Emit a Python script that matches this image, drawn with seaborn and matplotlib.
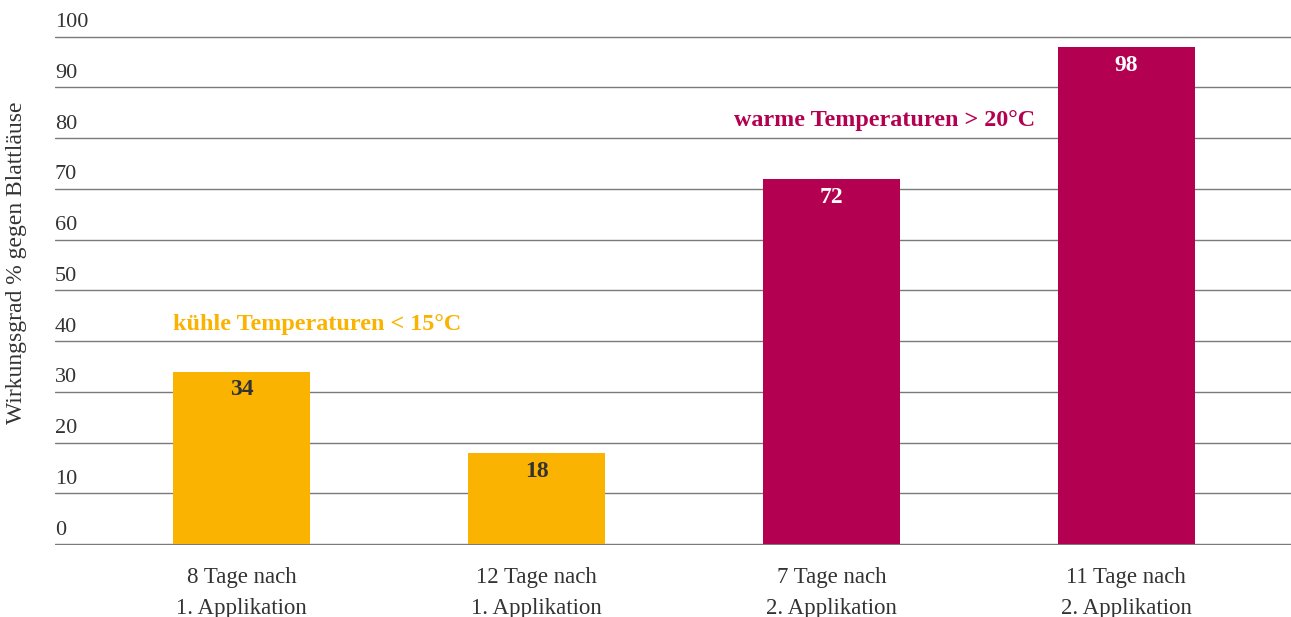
import numpy as np
import pandas as pd
from matplotlib import pyplot as plt
import seaborn as sns

sns.set_style('white')
plt.rcParams['font.family'] = ['Liberation Serif', 'DejaVu Serif']

# data
categories = ['8 Tage nach\n1. Applikation', '12 Tage nach\n1. Applikation',
              '7 Tage nach\n2. Applikation', '11 Tage nach\n2. Applikation']
values = [34, 18, 72, 98]
groups = ['kühl', 'kühl', 'warm', 'warm']
yTicks = [0, 10, 20, 30, 40, 50, 60, 70, 80, 90, 100]
yLabel = 'Wirkungsgrad % gegen Blattläuse'
coolNote = 'kühle Temperaturen < 15°C'
warmNote = 'warme Temperaturen > 20°C'

orange = '#F9B300'
magenta = '#B40050'
textGray = '#333333'

df = pd.DataFrame({'cat': categories, 'val': values, 'grp': groups})

fig = plt.figure(figsize=(12.91, 6.17), dpi=100)
ax = fig.add_axes([0.0426, 0.1167, 0.9574, 0.825])

sns.barplot(data=df, x='cat', y='val', hue='grp', order=categories,
            palette={'kühl': orange, 'warm': magenta}, width=0.464,
            saturation=1, linewidth=0, dodge=False, legend=False, ax=ax, zorder=3)

ax.set_ylim(-0.15, 100.15)
ax.set_xlim(-0.633, 3.558)
ax.set_yticks(yTicks)
ax.set_yticklabels([])
ax.tick_params(axis='y', length=0)
ax.tick_params(axis='x', length=0, pad=16, labelsize=16.5, labelcolor=textGray)
for lbl in ax.get_xticklabels():
    lbl.set_linespacing(1.6)
ax.yaxis.grid(True, color='#7a7a7a', linewidth=1.0, zorder=0)
ax.set_axisbelow(True)
for s in ax.spines.values():
    s.set_visible(False)
ax.set_xlabel('')
ax.set_ylabel('')
fig.text(17 / 1291, 1 - 263 / 617, yLabel, rotation=90, ha='center', va='center',
         fontsize=17, color=textGray)

# y tick labels sit above their gridline
trans = ax.get_yaxis_transform()
for t in yTicks:
    ax.text(0.0, t + 0.9, str(t), transform=trans, ha='left', va='bottom',
            fontsize=16, color=textGray)

# values inside the bars
for i, v in enumerate(values):
    col = textGray if groups[i] == 'kühl' else 'white'
    ax.text(i, v - 3.6, str(v), ha='center', va='center', fontsize=17,
            fontweight='bold', color=col, zorder=4)

ax.text(-0.233, 43.2, coolNote, ha='left', va='center', fontsize=17.4,
        fontweight='bold', color=orange)
ax.text(2.69, 83.5, warmNote, ha='right', va='center', fontsize=17.4,
        fontweight='bold', color=magenta)

plt.savefig('out.png', dpi=100)
plt.close()
